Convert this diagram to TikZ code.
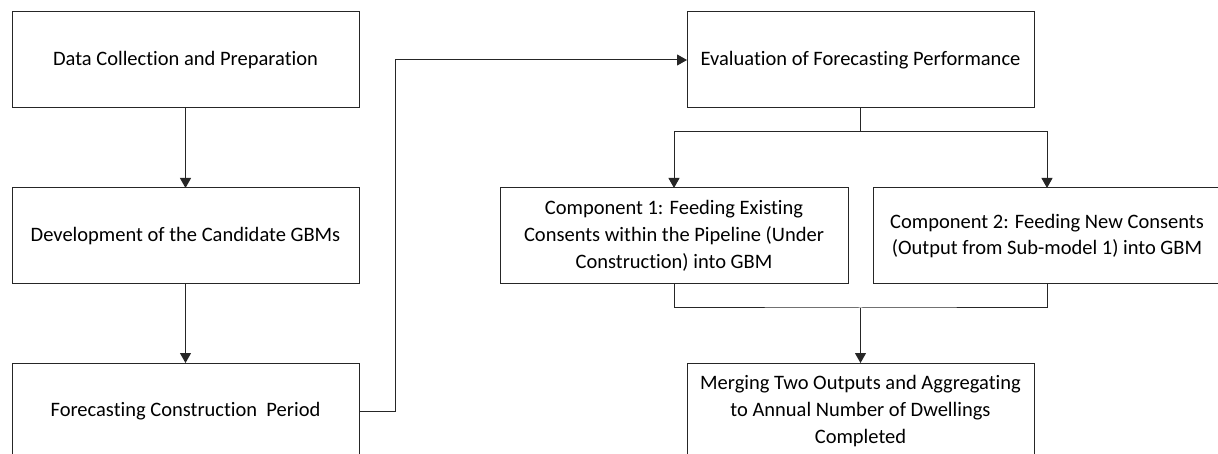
\documentclass[tikz,border=0pt]{standalone}
\usepackage{fontspec}
\setmainfont{Carlito}[RawFeature={-liga;-clig}]
\usetikzlibrary{arrows.meta}
\begin{document}
\begin{tikzpicture}[x=1pt,y=-1pt,
  box/.style={draw=black!85, line width=1pt, fill=white, inner sep=0pt, outer sep=0pt,
    minimum width=347pt, minimum height=96pt, align=center,
    font=\fontsize{20.5}{26.7}\selectfont},
  conn/.style={draw=black!85, line width=1pt},
  arr/.style={conn, -{Triangle[width=11pt,length=10pt]}}]
\useasboundingbox (0,0) rectangle (1218,454);
\clip (0,0) rectangle (1218,454);
\fill[white] (0,0) rectangle (1218,454);
\node[box] (b1) at (185.5,60) {Data Collection and Preparation};
\node[box] (b2) at (185.5,236) {Development of the Candidate GBMs};
\node[box] (b3) at (185.5,411) {Forecasting Construction\ \ Period};
\node[box] (b4) at (860.5,60) {Evaluation of Forecasting Performance};
\node[box, minimum width=348pt] (c1) at (674,236) {Component 1: Feeding Existing\\Consents within the Pipeline (Under\\Construction) into GBM};
\node[box, minimum width=348pt] (c2) at (1047,236) {Component 2: Feeding New Consents\\(Output from Sub-model 1) into GBM};
\node[box] (m) at (860.5,411) {Merging Two Outputs and Aggregating\\to Annual Number of Dwellings\\Completed};
\coordinate (j1) at (395,411);
\coordinate (s1) at (860.5,132);
\coordinate (s2) at (860.5,308);
\draw[arr] (b1.south) -- (b2.north);
\draw[arr] (b2.south) -- (b3.north);
\draw[arr] (b3.east) -- (j1) |- (b4.west);
\draw[conn] (b4.south) -- (s1);
\draw[arr] (s1) -| (c1.north);
\draw[arr] (s1) -| (c2.north);
\draw[conn] (c1.south) |- (s2) -| (c2.south);
\draw[arr] (s2) -- (m.north);
\end{tikzpicture}
\end{document}
